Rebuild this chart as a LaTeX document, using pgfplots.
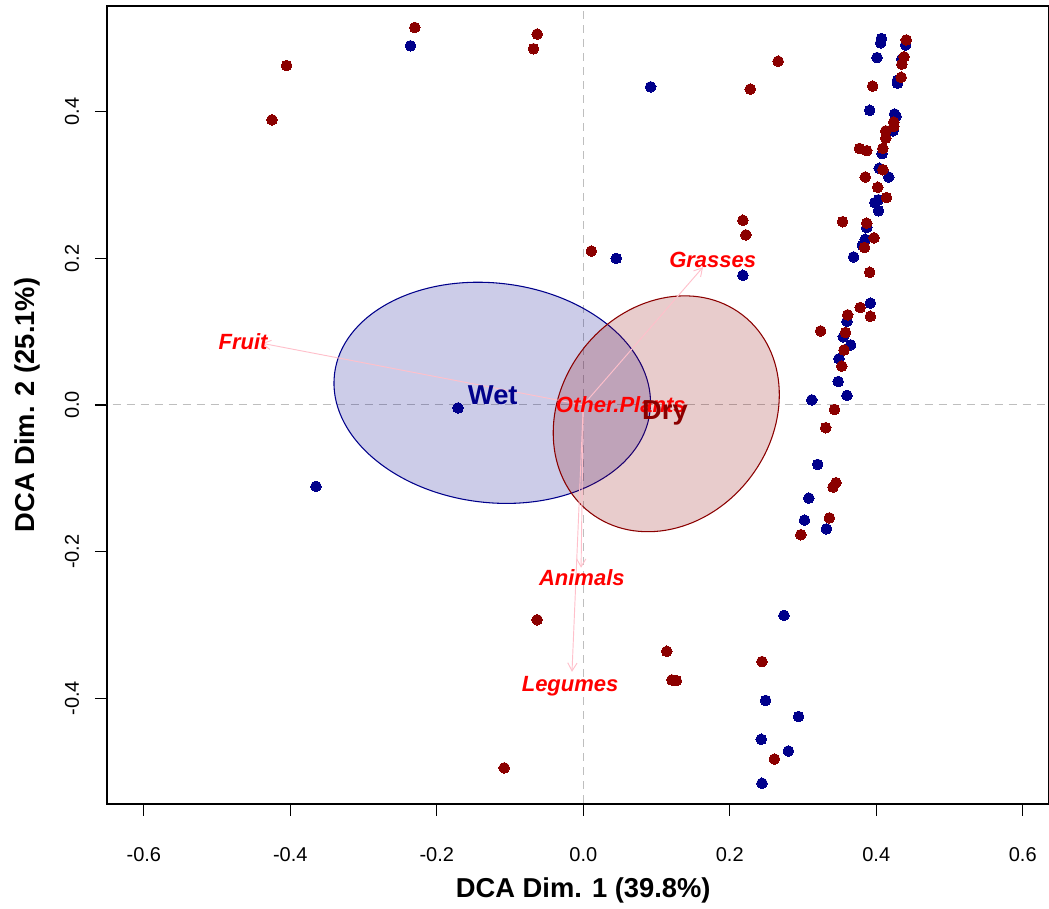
\documentclass[border=0pt]{standalone}
\usepackage{pgfplots}
\pgfplotsset{compat=1.18}
\usepackage{fontspec}
\setmainfont{Liberation Sans}
\usetikzlibrary{arrows.meta}
\definecolor{wetc}{RGB}{0,0,139}
\definecolor{dryc}{RGB}{139,0,0}
\definecolor{arrc}{RGB}{255,192,203}
\definecolor{labc}{RGB}{255,0,0}
\definecolor{refc}{RGB}{190,190,190}

\pgfplotstableread{
x y
-0.236 0.490
0.092 0.434
0.045 0.200
0.218 0.177
-0.171 -0.004
-0.365 -0.111
0.274 -0.287
0.249 -0.403
0.294 -0.425
0.243 -0.456
0.280 -0.472
0.244 -0.516
0.348 0.032
0.312 0.007
0.360 0.013
0.320 -0.081
0.308 -0.127
0.302 -0.157
0.332 -0.169
0.398 0.276
0.403 0.265
0.387 0.242
0.385 0.226
0.381 0.218
0.369 0.202
0.392 0.139
0.360 0.114
0.355 0.093
0.365 0.082
0.349 0.063
0.407 0.500
0.406 0.494
0.440 0.491
0.401 0.474
0.435 0.472
0.429 0.443
0.429 0.439
0.391 0.402
0.425 0.397
0.427 0.394
0.423 0.374
0.408 0.343
0.404 0.323
0.417 0.311
0.403 0.280
}\wettable

\pgfplotstableread{
x y
-0.230 0.515
-0.063 0.506
-0.068 0.486
-0.405 0.463
-0.425 0.389
0.228 0.431
0.266 0.469
0.011 0.210
0.218 0.252
0.222 0.232
-0.063 -0.293
-0.108 -0.495
0.114 -0.336
0.121 -0.375
0.127 -0.376
0.244 -0.350
0.261 -0.483
0.343 -0.006
0.331 -0.031
0.345 -0.106
0.341 -0.112
0.336 -0.154
0.297 -0.177
0.414 0.283
0.354 0.250
0.387 0.248
0.397 0.228
0.384 0.215
0.391 0.181
0.378 0.133
0.392 0.121
0.361 0.123
0.324 0.101
0.358 0.099
0.356 0.075
0.353 0.053
0.441 0.498
0.438 0.475
0.435 0.465
0.434 0.447
0.395 0.435
0.424 0.386
0.424 0.380
0.413 0.374
0.413 0.364
0.377 0.350
0.387 0.347
0.409 0.350
0.409 0.321
0.385 0.311
0.402 0.297
}\drytable

\begin{document}
\begin{tikzpicture}
\useasboundingbox (-80.25pt,-78.75pt) rectangle (706.5pt,603pt);
\begin{axis}[
  at={(0,0)}, anchor=south west,
  scale only axis, width=706.5pt, height=598.5pt,
  xmin=-0.6503, xmax=0.6359, ymin=-0.5443, ymax=0.5443,
  axis line style={line width=0.9pt},
  xtick={-0.6,-0.4,-0.2,0,0.2,0.4,0.6},
  xticklabels={-0.6,-0.4,-0.2,0.0,0.2,0.4,0.6},
  ytick={-0.4,-0.2,0,0.2,0.4},
  yticklabels={-0.4,-0.2,0.0,0.2,0.4},
  xtick pos=bottom, ytick pos=left,
  tick align=outside, major tick length=9pt,
  every tick/.style={black, line width=0.8pt},
  tick label style={font=\fontsize{15}{18}\selectfont, inner sep=0pt},
  xticklabel style={anchor=base, yshift=-34pt},
  yticklabel style={rotate=90, anchor=base, yshift=12pt},
  every axis x label/.style={at={(axis description cs:0.5056,0)}, yshift=-64.5pt, anchor=center},
  every axis y label/.style={at={(axis description cs:0,0.5)}, xshift=-60pt, rotate=90, anchor=center},
  label style={font=\fontsize{20.5}{24}\selectfont\bfseries},
  xlabel={DCA Dim. 1 (39.8\%)},
  ylabel={DCA Dim. 2 (25.1\%)},
  clip=true,
]
\addplot[refc, line width=0.75pt, dash pattern=on 6pt off 4.5pt] coordinates {(-0.7,0) (0.7,0)};
\addplot[refc, line width=0.75pt, dash pattern=on 6pt off 4.5pt] coordinates {(0,-0.6) (0,0.6)};

\addplot[only marks, mark=*, mark size=4pt, mark options={fill=wetc, draw=wetc, line width=0pt}] table[x=x,y=y] {\wettable};
\addplot[only marks, mark=*, mark size=4pt, mark options={fill=dryc, draw=dryc, line width=0pt}] table[x=x,y=y] {\drytable};

\draw[wetc, line width=0.8pt, fill=wetc, fill opacity=0.2] (axis cs:-0.1243,0.0166) ellipse [x radius=0.2169, y radius=0.1497, rotate=-6.8];
\draw[dryc, line width=0.8pt, fill=dryc, fill opacity=0.2] (axis cs:0.1133,-0.0120) ellipse [x radius=0.1704, y radius=0.1438, rotate=52.3];

\addplot[arrc, line width=0.7pt, -{Straight Barb[length=6pt,width=7pt]}] coordinates {(0,0) (-0.4388,0.0842)};
\addplot[arrc, line width=0.7pt, -{Straight Barb[length=6pt,width=7pt]}] coordinates {(0,0) (0.1634,0.188)};
\addplot[arrc, line width=0.7pt, -{Straight Barb[length=6pt,width=7pt]}] coordinates {(0,0) (-0.003,-0.222)};
\addplot[arrc, line width=0.7pt, -{Straight Barb[length=6pt,width=7pt]}] coordinates {(0,0) (-0.0154,-0.364)};
\addplot[arrc, line width=0.7pt] coordinates {(0,0) (0.008,0.006)};

\node[text=labc, font=\fontsize{16.5}{20}\selectfont\bfseries\itshape] at (axis cs:-0.4646,0.086) {Fruit};
\node[text=labc, font=\fontsize{16.5}{20}\selectfont\bfseries\itshape] at (axis cs:0.1767,0.198) {Grasses};
\node[text=labc, font=\fontsize{16.5}{20}\selectfont\bfseries\itshape] at (axis cs:0.0512,0.0) {Other.Plants};
\node[text=labc, font=\fontsize{16.5}{20}\selectfont\bfseries\itshape] at (axis cs:-0.002,-0.236) {Animals};
\node[text=labc, font=\fontsize{16.5}{20}\selectfont\bfseries\itshape] at (axis cs:-0.018,-0.383) {Legumes};

\node[text=wetc, font=\fontsize{20.5}{24}\selectfont\bfseries] at (axis cs:-0.1236,0.0136) {Wet};
\node[text=dryc, font=\fontsize{20.5}{24}\selectfont\bfseries] at (axis cs:0.1116,-0.0113) {Dry};
\end{axis}
\end{tikzpicture}
\end{document}
